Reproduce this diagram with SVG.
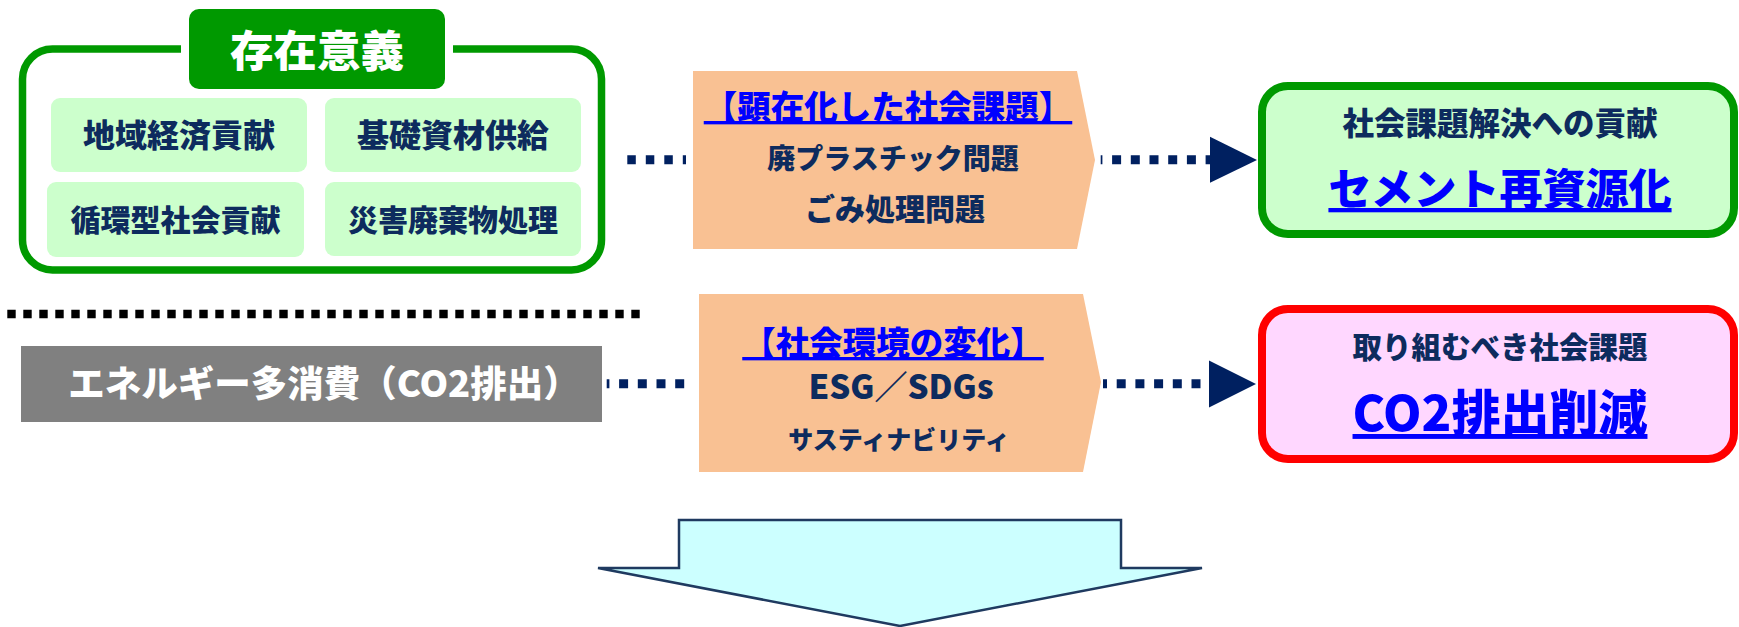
<svg xmlns="http://www.w3.org/2000/svg" width="1739" height="627" viewBox="0 0 1739 627">
<defs>
<style>
text{font-family:"Noto Sans CJK JP","Noto Sans",sans-serif;font-weight:900;text-anchor:middle}
.nv{fill:#0D2B5E}
.bl{fill:#0000FF;text-decoration:underline}
.wh{fill:#FFFFFF}
.inner{fill:#CCFFCC}
.peach{fill:#F9C193}
.dotn{stroke:#002060;stroke-width:9;fill:none}
.dotk{stroke:#000000;stroke-width:8.4;fill:none}
</style>
</defs>
<rect width="1739" height="627" fill="#FFFFFF"/>

<g id="purpose">
<rect x="22.5" y="49" width="579" height="221" rx="30" fill="#FFFFFF" stroke="#009900" stroke-width="7.5"/>
<rect x="181" y="40" width="272" height="20" fill="#FFFFFF"/>
<rect x="189" y="9" width="256" height="80" rx="10" fill="#009900"/>
<text class="wh" x="317" y="67" font-size="43.5">存在意義</text>
</g>
<g id="item1">
<rect class="inner" x="51" y="98" width="256" height="74" rx="9"/>
<text class="nv" x="179" y="147" font-size="32">地域経済貢献</text>
</g>
<g id="item2">
<rect class="inner" x="325" y="98" width="256" height="74" rx="9"/>
<text class="nv" x="453" y="147" font-size="32">基礎資材供給</text>
</g>
<g id="item3">
<rect class="inner" x="47" y="182" width="257" height="75" rx="9"/>
<text class="nv" x="175.5" y="231" font-size="30">循環型社会貢献</text>
</g>
<g id="item4">
<rect class="inner" x="325" y="182" width="256" height="74" rx="9"/>
<text class="nv" x="453" y="231" font-size="30">災害廃棄物処理</text>
</g>

<g id="issues">
<polygon class="peach" points="693,71 1077,71 1095,160 1077,249 693,249"/>
<text class="bl" x="888" y="119" font-size="33.5">【顕在化した社会課題】</text>
<text class="nv" x="893" y="169" font-size="28">廃プラスチック問題</text>
<text class="nv" x="895" y="220" font-size="30">ごみ処理問題</text>
</g>

<g id="environment">
<polygon class="peach" points="699,294 1083,294 1101,382 1083,472 699,472"/>
<text class="bl" x="893" y="355" font-size="33.5">【社会環境の変化】</text>
<text class="nv" x="901" y="399" font-size="33">ESG／SDGs</text>
<text class="nv" x="899" y="449" font-size="25">サスティナビリティ</text>
</g>

<g id="energy">
<rect x="21" y="346" width="581" height="76" fill="#808080"/>
<text class="wh" x="324" y="397" font-size="36.5">エネルギー多消費（CO2排出）</text>
</g>

<g id="recycling">
<rect x="1262" y="86" width="472" height="148" rx="26" fill="#CCFFCC" stroke="#009900" stroke-width="8"/>
<text class="nv" x="1500" y="135" font-size="31.5">社会課題解決への貢献</text>
<text class="bl" x="1500" y="205" font-size="43">セメント再資源化</text>
</g>

<g id="co2">
<rect x="1262" y="309" width="472" height="150" rx="26" fill="#FFD7FF" stroke="#FF0000" stroke-width="8"/>
<text class="nv" x="1500" y="358" font-size="29.5">取り組むべき社会課題</text>
<text class="bl" x="1500" y="431" font-size="49">CO2排出削減</text>
</g>

<g id="connectors">
<line class="dotk" x1="7.3" y1="314" x2="640" y2="314" stroke-dasharray="8.4 7.6"/>
<line class="dotn" x1="627.3" y1="159.7" x2="686" y2="159.7" stroke-dasharray="8.5 10"/>
<line class="dotn" x1="1100.7" y1="159.7" x2="1212" y2="159.7" stroke-dasharray="9 9.7" stroke-dashoffset="7.3"/>
<polygon points="1210,136.7 1257,160 1210,182.7" fill="#002060"/>
<line class="dotn" x1="606.7" y1="383.7" x2="692" y2="383.7" stroke-dasharray="9 9.7" stroke-dashoffset="6.3"/>
<line class="dotn" x1="1103" y1="383.7" x2="1212" y2="383.7" stroke-dasharray="9 9.7" stroke-dashoffset="5"/>
<polygon points="1209,360.5 1256,384 1209,407.5" fill="#002060"/>
<polygon points="679,520 1121,520 1121,568 1202,568 900,626 598,568 679,568" fill="#CCFFFF" stroke="#1F3A60" stroke-width="2.5" stroke-linejoin="miter"/>
</g>
</svg>
